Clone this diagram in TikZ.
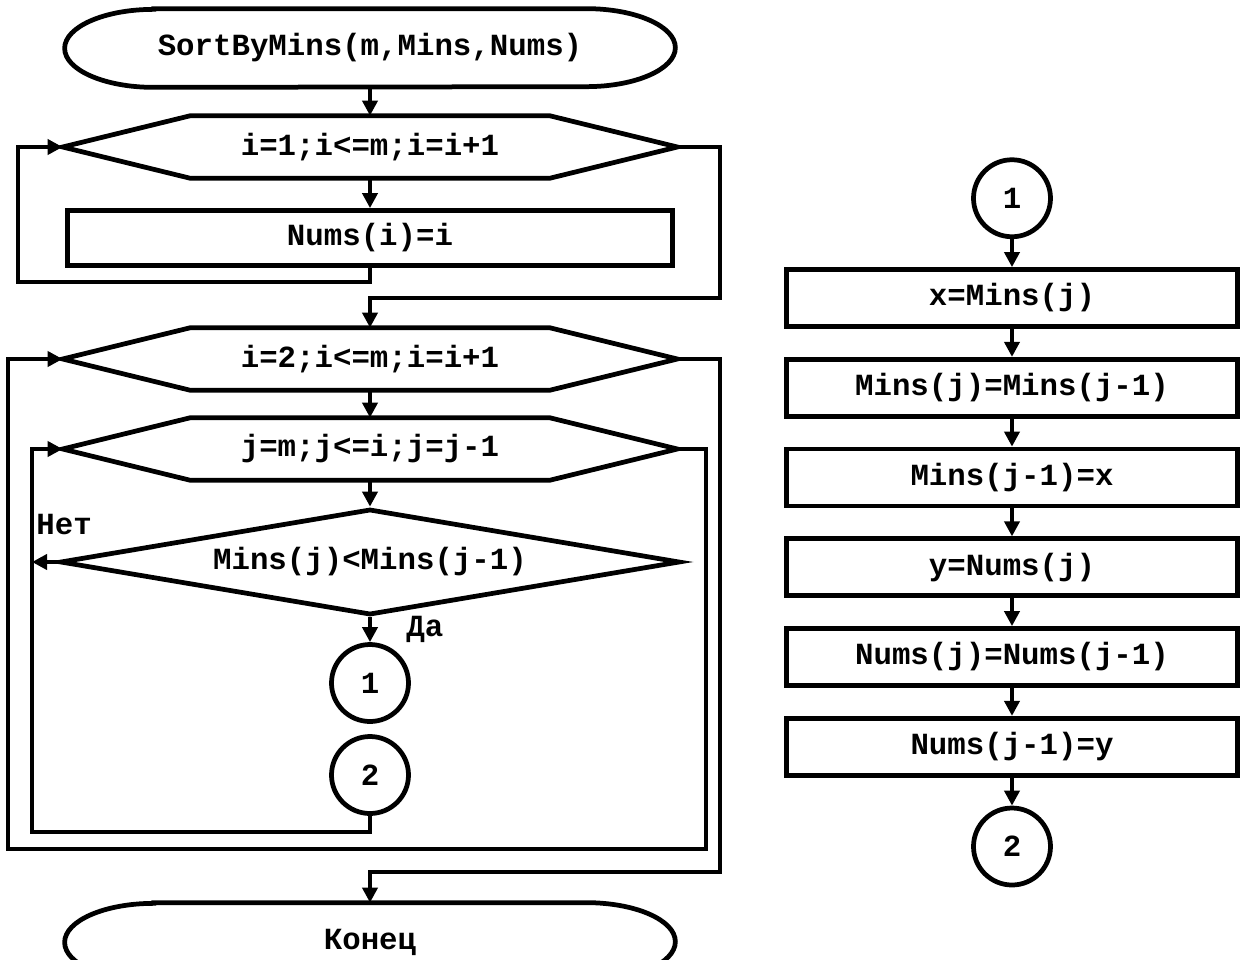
\documentclass[tikz,border=0pt]{standalone}
\usepackage{fontspec}
\setmonofont{Liberation Mono}
\usetikzlibrary{arrows.meta,positioning,shapes.geometric}
\tikzset{
  txt/.style={font=\ttfamily\bfseries\fontsize{17.5}{20}\selectfont},
  outl/.style={line width=0.95mm},
  blk/.style={txt, rectangle, draw, outl, minimum width=90.2mm, minimum height=11.4mm, inner sep=0},
  conn/.style={txt, circle, draw, outl, minimum size=15.4mm, inner sep=0},
  decide/.style={txt, diamond, draw, outl, aspect=5.85, minimum width=124mm, minimum height=21.2mm, inner sep=0},
  hexn/.style={txt, minimum width=122.8mm, minimum height=12.4mm, inner sep=0},
  term/.style={txt, minimum width=122mm, minimum height=15.6mm, inner sep=0},
  flow/.style={outl, -{Triangle[length=3mm,width=3mm]}},
  lbl/.style={txt, inner sep=0},
}
\begin{document}
\begin{tikzpicture}[x=0.2mm, y=-0.2mm, node distance=5.6mm]
  \useasboundingbox (0,0) rectangle (1245,959);

  % SortByMins
  \node[term] (start) at (370,48) {SortByMins(m,Mins,Nums)};
  \node[hexn] (for1) at (370,147) {i=1;i<=m;i=i+1};
  \node[blk, minimum width=121mm, minimum height=11mm] (numsi) at (370,238) {Nums(i)=i};
  \node[hexn] (for2) at (370,359) {i=2;i<=m;i=i+1};
  \node[hexn] (for3) at (370,449) {j=m;j<=i;j=j-1};
  \node[decide] (cmp) at (370,562) {Mins(j)<Mins(j-1)};
  \node[conn] (c1l) at (370,683) {1};
  \node[conn] (c2l) at (370,775) {2};
  \node[term] (stop) at (370,942) {Конец};

  % loop headers and terminals
  \foreach \n in {for1,for2,for3}
    \draw[outl] (\n.west) -- ([xshift=25.6mm]\n.north west) -- ([xshift=-25.6mm]\n.north east)
      -- (\n.east) -- ([xshift=-25.6mm]\n.south east) -- ([xshift=25.6mm]\n.south west) -- cycle;
  \foreach \n in {start,stop}
    \draw[outl] ([xshift=17.8mm]\n.north west) -- ([xshift=-17.8mm]\n.north east)
      arc[start angle=90, end angle=-90, x radius=17.8mm, y radius=7.8mm]
      -- ([xshift=17.8mm]\n.south west)
      arc[start angle=270, end angle=90, x radius=17.8mm, y radius=7.8mm] -- cycle;

  % loop returns and exits
  \coordinate (l1) at (18,282);
  \coordinate (r1) at (720,298);
  \coordinate (l2) at (8,849);
  \coordinate (r2) at (720,872);
  \coordinate (l3) at (32,832);
  \coordinate (r3) at (706,849);

  \draw[flow] (start.south) -- (for1.north);
  \draw[flow] (for1.south) -- (numsi.north);
  \draw[flow] (numsi.south) |- (l1) |- (for1.west);
  \draw[flow] (for1.east) -| (r1) -| (for2.north);
  \draw[flow] (for2.south) -- (for3.north);
  \draw[flow] (for3.south) -- (cmp.north);
  \draw[flow] (cmp.west) -- (cmp.west -| l3)
    node[lbl, anchor=south west, pos=1, yshift=5mm, xshift=0.4mm] {Нет};
  \draw[flow] (cmp.south) -- node[lbl, anchor=west, xshift=6.8mm] {Да} (c1l.north);
  \draw[flow] (c2l.south) |- (l3) |- (for3.west);
  \draw[flow] (for3.east) -| (r3) -- (l2) |- (for2.west);
  \draw[flow] (for2.east) -| (r2) -| (stop.north);

  % swap block
  \node[blk] (b1) at (1012,298) {x=Mins(j)};
  \node[conn, above=of b1] (c1r) {1};
  \node[blk, below=of b1] (b2) {Mins(j)=Mins(j-1)};
  \node[blk, below=of b2] (b3) {Mins(j-1)=x};
  \node[blk, below=of b3] (b4) {y=Nums(j)};
  \node[blk, below=of b4] (b5) {Nums(j)=Nums(j-1)};
  \node[blk, below=of b5] (b6) {Nums(j-1)=y};
  \node[conn, below=of b6] (c2r) {2};
  \foreach \a/\b in {c1r/b1,b1/b2,b2/b3,b3/b4,b4/b5,b5/b6,b6/c2r}
    \draw[flow] (\a.south) -- (\b.north);
\end{tikzpicture}
\end{document}
